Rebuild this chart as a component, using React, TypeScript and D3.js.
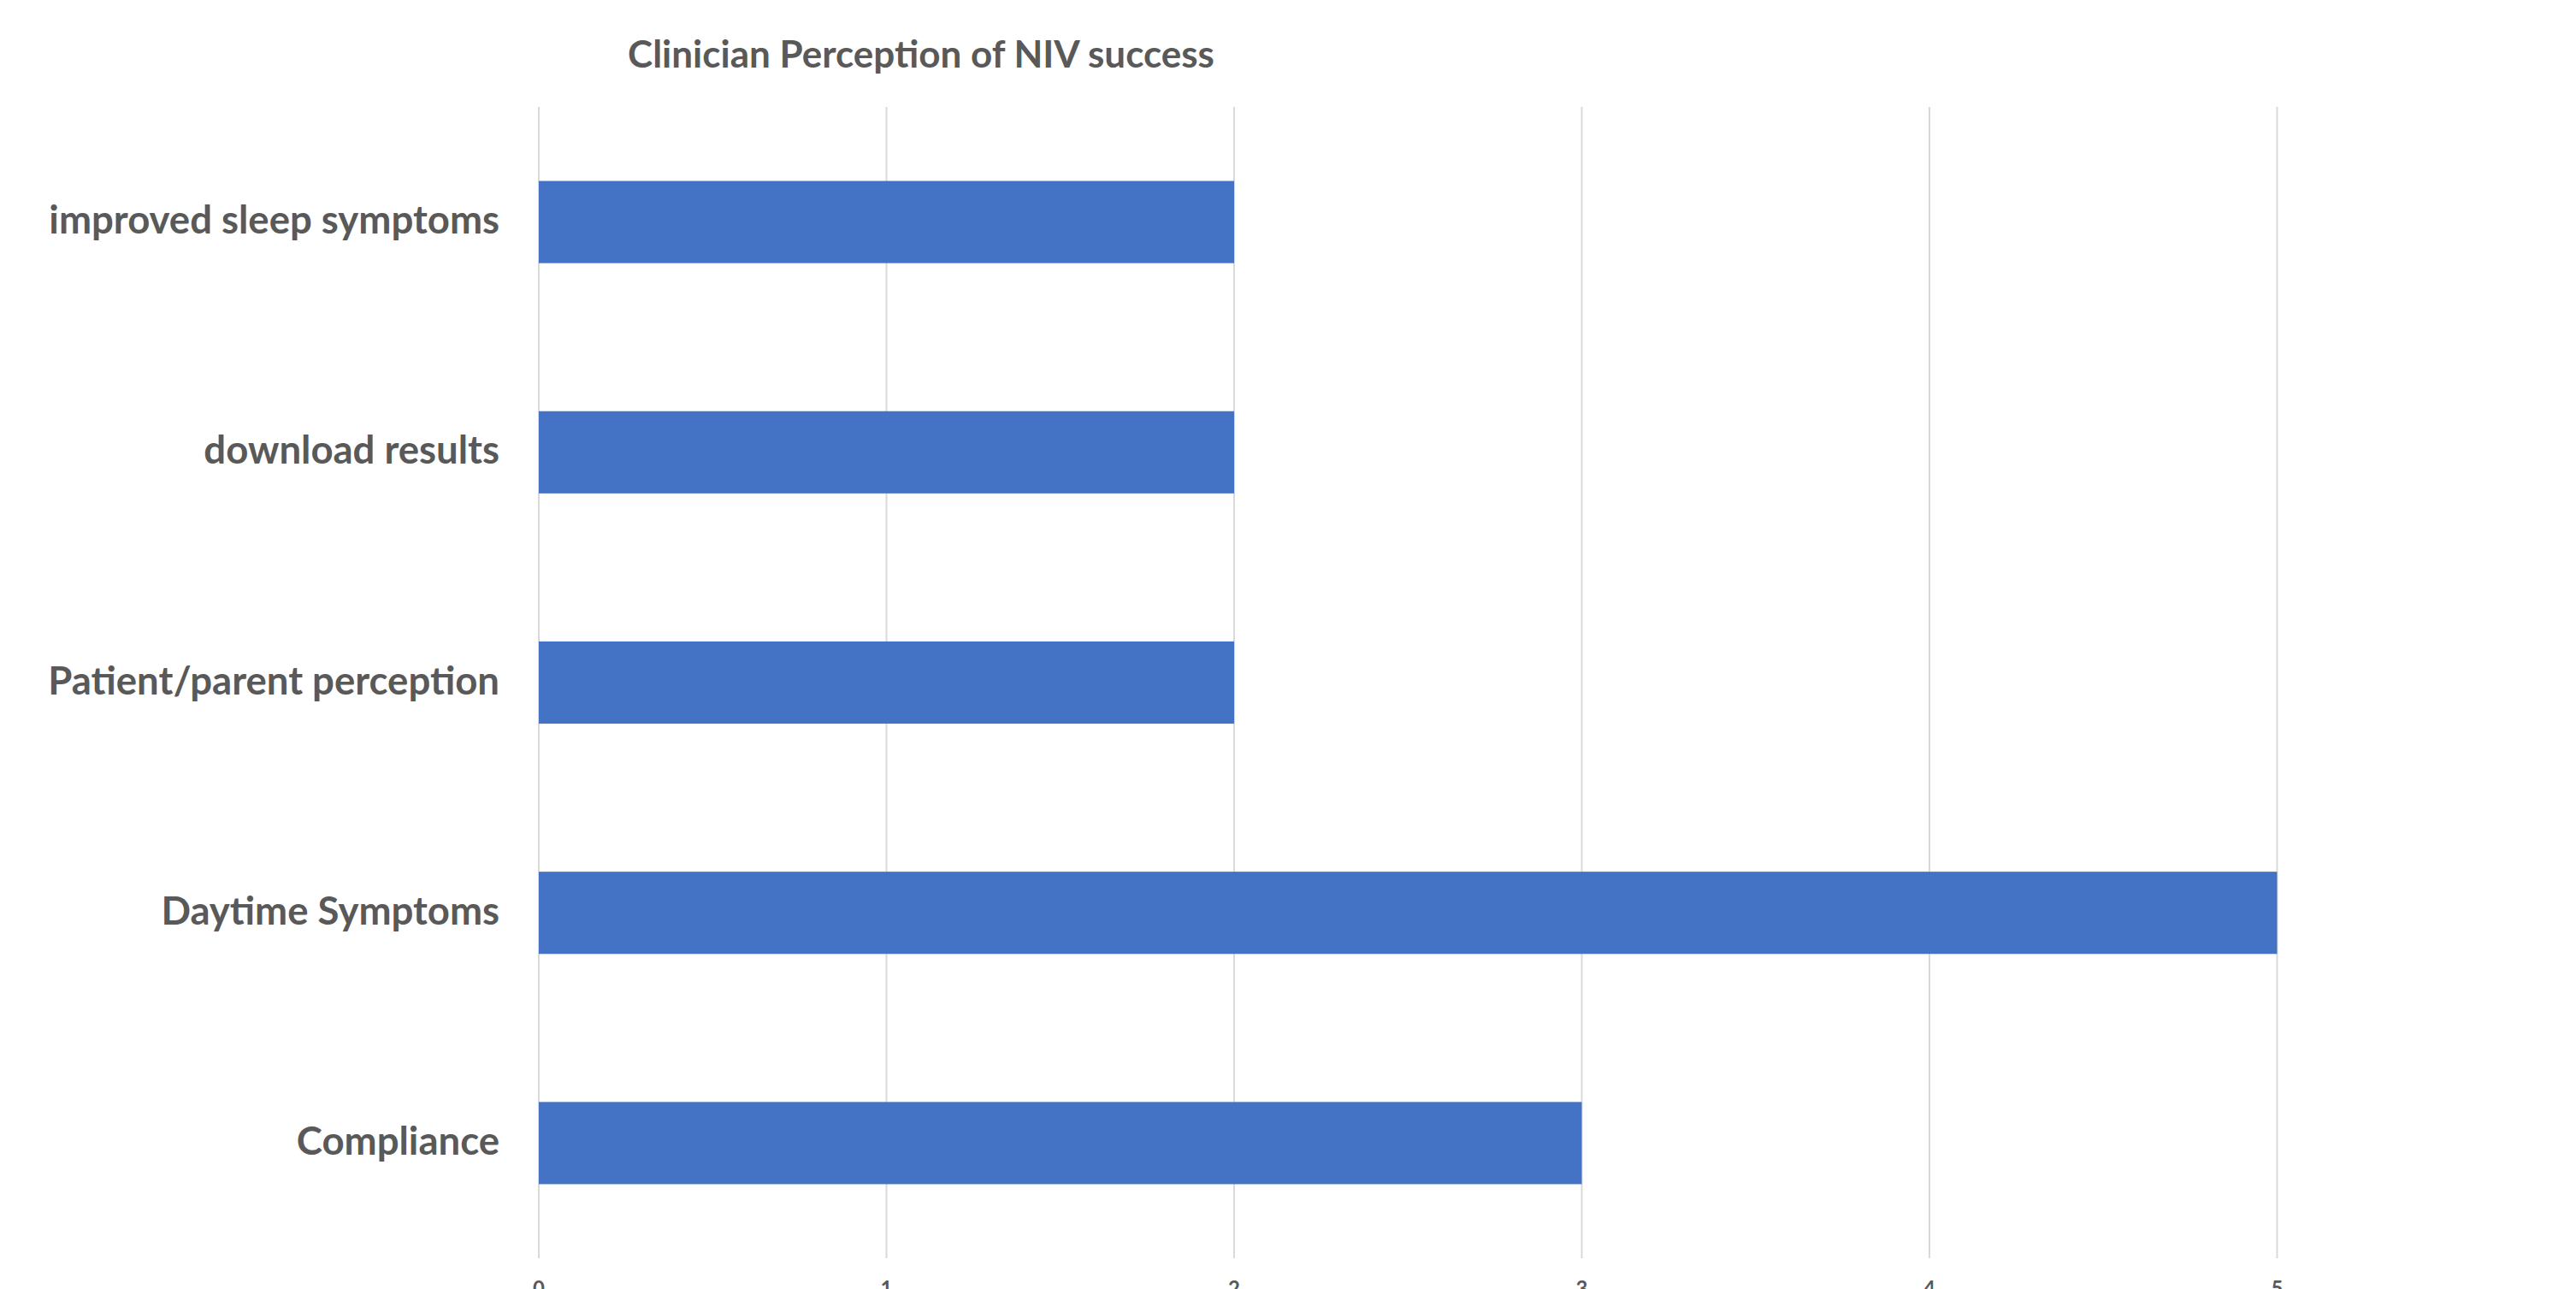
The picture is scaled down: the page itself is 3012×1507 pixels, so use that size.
import React from "react";
import * as d3 from "d3";

const categories = [
  "improved sleep symptoms",
  "download results",
  "Patient/parent perception",
  "Daytime Symptoms",
  "Compliance",
];
const values = [2, 2, 2, 5, 3];
const xTicks = [0, 1, 2, 3, 4, 5];
const title = "Clinician Perception of NIV success";

const W = 3012;
const H = 1507;
const M = { left: 630, right: 3012 - 2662.5, top: 125, bottom: 1507 - 1471 };

export default function App() {
  const x = d3.scaleLinear().domain([0, 5]).range([M.left, W - M.right]);
  const y = d3
    .scaleBand<string>()
    .domain(categories)
    .range([M.top, H - M.bottom])
    .paddingInner(0.643)
    .paddingOuter(0.3215);
  const font = "Lato, 'Open Sans', sans-serif";
  const grey = "#595959";
  return (
    <svg
      width={W}
      height={H}
      style={{ position: "absolute", left: 0, top: 0, display: "block", background: "#fff" }}
    >
      <rect x={0} y={0} width={W} height={H} fill="#fff" />
      {xTicks.map((t) => (
        <line
          key={"g" + t}
          x1={x(t)}
          x2={x(t)}
          y1={M.top}
          y2={H - M.bottom}
          stroke="#d9d9d9"
          strokeWidth={2}
        />
      ))}
      {categories.map((c, i) => (
        <rect
          key={c}
          x={x(0)}
          y={y(c)}
          width={x(values[i]) - x(0)}
          height={y.bandwidth()}
          fill="#4472C4"
        />
      ))}
      {categories.map((c) => (
        <text
          key={"l" + c}
          x={584}
          y={(y(c) as number) + y.bandwidth() / 2 - 4}
          textAnchor="end"
          dominantBaseline="central"
          fontFamily={font}
          fontWeight="bold"
          fontSize={45.5}
          fill={grey}
        >
          {c}
        </text>
      ))}
      {xTicks.map((t) => (
        <text
          key={"t" + t}
          x={x(t)}
          y={1496}
          textAnchor="middle"
          dominantBaseline="hanging"
          fontFamily={font}
          fontWeight="bold"
          fontSize={24}
          fill={grey}
        >
          {t}
        </text>
      ))}
      <text
        x={1077}
        y={62}
        textAnchor="middle"
        dominantBaseline="central"
        fontFamily={font}
        fontWeight="bold"
        fontSize={44}
        fill={grey}
      >
        {title}
      </text>
    </svg>
  );
}
